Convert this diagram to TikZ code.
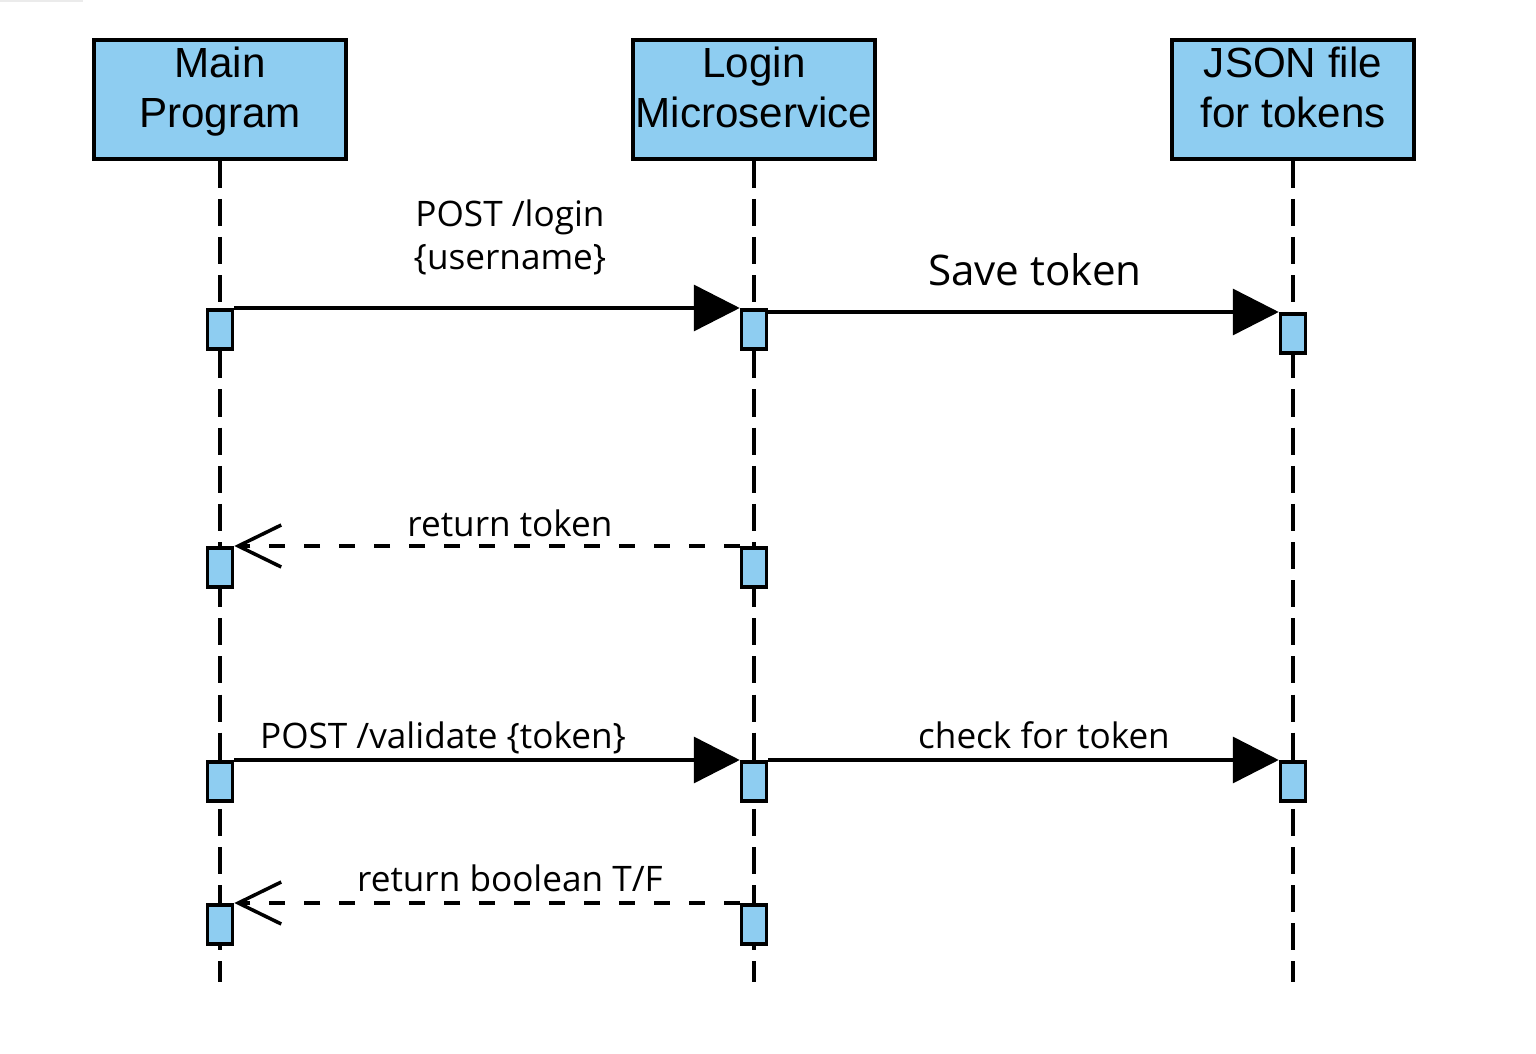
\documentclass[tikz,border=0pt]{standalone}
\usepackage{fontspec}
\setmainfont{Open Sans}
\newfontfamily\headfont{Liberation Sans}
\usetikzlibrary{positioning,arrows.meta}
\definecolor{boxblue}{RGB}{142,205,241}

\begin{document}
\begin{tikzpicture}[x=0.02cm, y=-0.02cm, line width=2pt, every node/.style={font=\fontsize{20}{20.5}\selectfont}]
  \tikzstyle{actor}=[draw, fill=boxblue, minimum height=2.38cm, inner sep=0pt, align=center, text height=1.14cm, text depth=0cm, font=\headfont\fontsize{24}{28.5}\selectfont]
  \tikzstyle{act}=[draw, fill=boxblue, minimum width=0.5cm, minimum height=0.78cm, inner sep=0pt, anchor=north]
  \tikzstyle{life}=[dash pattern=on 15.4pt off 6.3pt]
  \tikzstyle{call}=[-{Triangle[length=0.92cm, width=0.92cm]}]
  \tikzstyle{reply}=[dash pattern=on 9.1pt off 10.8pt, -{Straight Barb[length=0.86cm, width=0.84cm]}]
  \useasboundingbox (0,0) rectangle (1536,1054);
  \fill[black!8] (0,0) rectangle (83,2);

  % participants
  \node[actor, minimum width=5.04cm] (main) at (220,99.5) {Main\\Program};
  \node[actor, minimum width=4.84cm] (login) at (754,99.5) {Login\\Microservice};
  \node[actor, minimum width=4.84cm] (json) at (1293,99.5) {JSON file\\for tokens};

  % lifelines
  \coordinate (mainEnd) at (220,982);
  \coordinate (loginEnd) at (754,982);
  \coordinate (jsonEnd) at (1293,982);
  \draw[life] (main.south) -- (mainEnd);
  \draw[life] (login.south) -- (loginEnd);
  \draw[life] (json.south) -- (jsonEnd);

  % activations
  \node[act] (m1) at (220,308) {};
  \node[act] (m2) at (220,546) {};
  \node[act] (m3) at (220,760) {};
  \node[act] (m4) at (220,903) {};
  \node[act] (l1) at (754,308) {};
  \node[act] (l2) at (754,546) {};
  \node[act] (l3) at (754,760) {};
  \node[act] (l4) at (754,903) {};
  \node[act] (j1) at (1293,312) {};
  \node[act] (j2) at (1293,760) {};

  % messages
  \draw[call] (m1.north east) -- (l1.north west);
  \draw[call] (l1.east |- j1.north west) -- (j1.north west);
  \draw[reply] (l2.north west) -- (m2.north east);
  \draw[call] (m3.north east) -- (l3.north west);
  \draw[call] (l3.north east) -- (j2.north west);
  \draw[reply] (l4.north west) -- (m4.north east);

  \node[anchor=base, align=center, font=\fontsize{20}{24.5}\selectfont] (loginMsg) at (510,270) {POST /login\\\{username\}};
  \node[anchor=base, font=\fontsize{24}{28}\selectfont] (saveMsg) at (1035,286) {Save token};
  \node[anchor=base] (tokenMsg) at (510,536) {return token};
  \node[anchor=base] (validMsg) at (443,748) {POST /validate \{token\}};
  \node[anchor=base] (checkMsg) at (1044,748) {check for token};
  \node[anchor=base] (boolMsg) at (510,891) {return boolean T/F};
\end{tikzpicture}
\end{document}
